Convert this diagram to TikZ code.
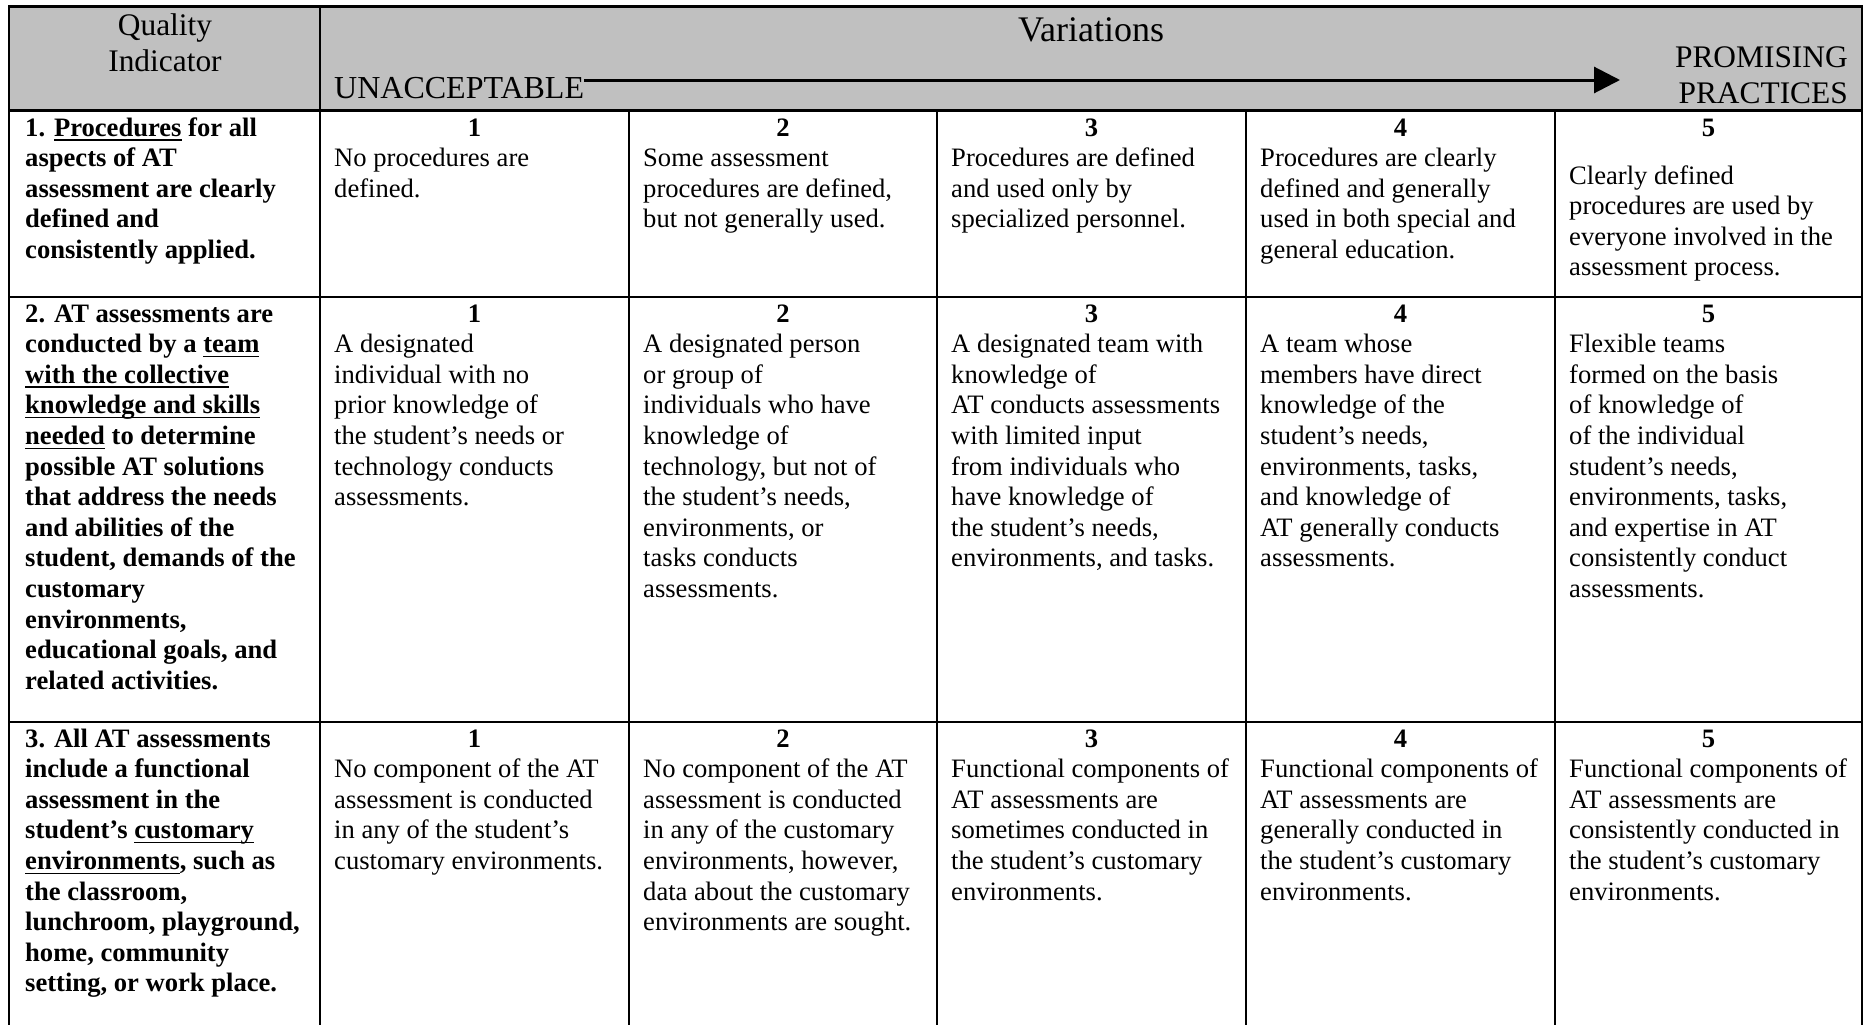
\documentclass[tikz,border=0pt]{standalone}
\usepackage{fontspec}
\setmainfont{Liberation Serif}
\usetikzlibrary{arrows.meta}
\definecolor{hdrgray}{RGB}{192,192,192}
\newcommand{\myul}[1]{\leavevmode\setbox0\hbox{#1}\rlap{\rule[-4.6pt]{\wd0}{1.5pt}}\box0\relax}
\newcommand{\mycell}[1]{\parbox[t]{300pt}{\raggedright #1}}
\tikzset{
  bodytxt/.style={anchor=base west, inner sep=0pt, font=\fontsize{26.6}{30.6}\selectfont},
  qtxt/.style={bodytxt, font=\fontsize{26.6}{30.6}\selectfont\bfseries},
  numtxt/.style={anchor=base, inner sep=0pt, font=\fontsize{26.6}{30.6}\selectfont\bfseries},
  hdrtxt/.style={inner sep=0pt, font=\fontsize{31.4}{36}\selectfont},
  outer/.style={line width=2.6pt},
  inner/.style={line width=2pt},
  innerh/.style={line width=2.5pt},
}
\begin{document}
\begin{tikzpicture}[x=1pt,y=-1pt]
\useasboundingbox (0,0) rectangle (1871,1025);
\fill[white] (0,0) rectangle (1871,1025);
% header fill
\fill[hdrgray] (9,6.5) rectangle (1862,110.5);
% header texts
\node[hdrtxt, anchor=base] (qi) at (165,36) {\parbox[t]{300pt}{\centering Quality\\Indicator}};
\node[hdrtxt, anchor=base, font=\fontsize{36}{40}\selectfont] (var) at (1091,41.5) {Variations};
\node[hdrtxt, anchor=base west, font=\fontsize{32}{36}\selectfont] (unacc) at (334,99) {UNACCEPTABLE};
\node[hdrtxt, anchor=base east] (prom) at (1848,67) {\parbox[t]{300pt}{\raggedleft PROMISING\\PRACTICES}};
\coordinate (tip) at (1620,80);
\draw[line width=3pt, -{Triangle[length=26pt,width=26pt]}] (unacc.east |- tip) -- (tip);
% grid lines
\draw[innerh] (9,297) -- (1862,297);
\draw[innerh] (9,722) -- (1862,722);
\foreach \cx in {629,937,1246,1555} \draw[inner] (\cx,110.5) -- (\cx,1025);
\draw[outer] (320,6.5) -- (320,1025);
\draw[outer] (9,110.5) -- (1862,110.5);
\draw[outer] (9,1025) -- (9,6.5) -- (1862,6.5) -- (1862,1025);
% ---------- Row 1 ----------
\node[qtxt] (q1) at (25,136) {\mycell{1. \myul{Procedures} for all\\aspects of AT\\assessment are clearly\\defined and\\consistently applied.}};
\node[numtxt] (n11) at (474.5,136) {1};
\node[numtxt] (n12) at (783,136) {2};
\node[numtxt] (n13) at (1091.5,136) {3};
\node[numtxt] (n14) at (1400.5,136) {4};
\node[numtxt] (n15) at (1708.5,136) {5};
\node[bodytxt] (d11) at (334,166.6) {\mycell{No procedures are\\defined.}};
\node[bodytxt] (d12) at (643,166.6) {\mycell{Some assessment\\procedures are defined,\\but not generally used.}};
\node[bodytxt] (d13) at (951,166.6) {\mycell{Procedures are defined\\and used only by\\specialized personnel.}};
\node[bodytxt] (d14) at (1260,166.6) {\mycell{Procedures are clearly\\defined and generally\\used in both special and\\general education.}};
\node[bodytxt] (d15) at (1569,184) {\mycell{Clearly defined\\procedures are used by\\everyone involved in the\\assessment process.}};
% ---------- Row 2 ----------
\node[qtxt] (q2) at (25,322) {\mycell{2. AT assessments are\\conducted by a \myul{team}\\\myul{with the collective}\\\myul{knowledge and skills}\\\myul{needed} to determine\\possible AT solutions\\that address the needs\\and abilities of the\\student, demands of the\\customary\\environments,\\educational goals, and\\related activities.}};
\node[numtxt] (n21) at (474.5,322) {1};
\node[numtxt] (n22) at (783,322) {2};
\node[numtxt] (n23) at (1091.5,322) {3};
\node[numtxt] (n24) at (1400.5,322) {4};
\node[numtxt] (n25) at (1708.5,322) {5};
\node[bodytxt] (d21) at (334,352.6) {\mycell{A designated\\individual with no\\prior knowledge of\\the student’s needs or\\technology conducts\\assessments.}};
\node[bodytxt] (d22) at (643,352.6) {\mycell{A designated person\\or group of\\individuals who have\\knowledge of\\technology, but not of\\the student’s needs,\\environments, or\\tasks conducts\\assessments.}};
\node[bodytxt] (d23) at (951,352.6) {\mycell{A designated team with\\knowledge of\\AT conducts assessments\\with limited input\\from individuals who\\have knowledge of\\the student’s needs,\\environments, and tasks.}};
\node[bodytxt] (d24) at (1260,352.6) {\mycell{A team whose\\members have direct\\knowledge of the\\student’s needs,\\environments, tasks,\\and knowledge of\\AT generally conducts\\assessments.}};
\node[bodytxt] (d25) at (1569,352.6) {\mycell{Flexible teams\\formed on the basis\\of knowledge of\\of the individual\\student’s needs,\\environments, tasks,\\and expertise in AT\\consistently conduct\\assessments.}};
% ---------- Row 3 ----------
\node[qtxt] (q3) at (25,747) {\mycell{3. All AT assessments\\include a functional\\assessment in the\\student’s \myul{customary}\\\myul{environments}, such as\\the classroom,\\lunchroom, playground,\\home, community\\setting, or work place.}};
\node[numtxt] (n31) at (474.5,747) {1};
\node[numtxt] (n32) at (783,747) {2};
\node[numtxt] (n33) at (1091.5,747) {3};
\node[numtxt] (n34) at (1400.5,747) {4};
\node[numtxt] (n35) at (1708.5,747) {5};
\node[bodytxt] (d31) at (334,777.6) {\mycell{No component of the AT\\assessment is conducted\\in any of the student’s\\customary environments.}};
\node[bodytxt] (d32) at (643,777.6) {\mycell{No component of the AT\\assessment is conducted\\in any of the customary\\environments, however,\\data about the customary\\environments are sought.}};
\node[bodytxt] (d33) at (951,777.6) {\mycell{Functional components of\\AT assessments are\\sometimes conducted in\\the student’s customary\\environments.}};
\node[bodytxt] (d34) at (1260,777.6) {\mycell{Functional components of\\AT assessments are\\generally conducted in\\the student’s customary\\environments.}};
\node[bodytxt] (d35) at (1569,777.6) {\mycell{Functional components of\\AT assessments are\\consistently conducted in\\the student’s customary\\environments.}};
\end{tikzpicture}
\end{document}
